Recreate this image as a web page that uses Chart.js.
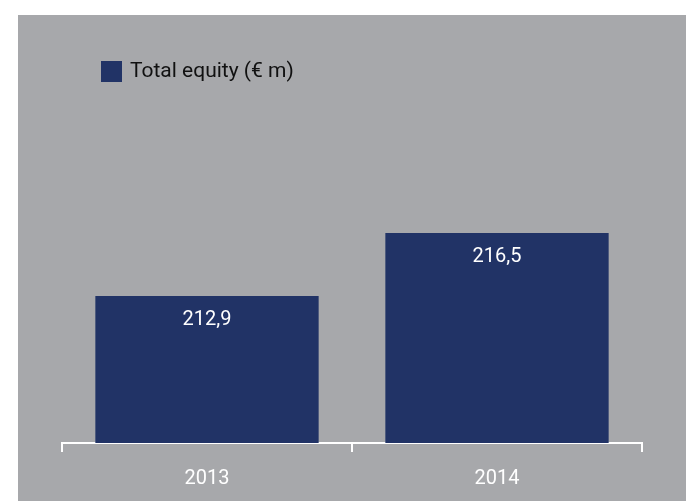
<!DOCTYPE html>
<html>
<head>
<meta charset="utf-8">
<script src="https://cdn.jsdelivr.net/npm/chart.js@4/dist/chart.umd.min.js"></script>
<style>
html,body{margin:0;padding:0;background:#fff;}
#wrap{width:686px;height:501px;position:relative;}
</style>
</head>
<body>
<div id="wrap"><canvas id="c" width="686" height="501"></canvas></div>
<script>
const categories = ["2013", "2014"];
const seriesLabel = "Total equity (€ m)";
const equityValues = [212.9, 216.5];

const FONT = "Roboto, 'Liberation Sans', sans-serif";
const GRAY = "#a7a8ab";
const NAVY = "#213366";

const bgPlugin = {
  id: "bg",
  beforeDraw(chart) {
    const ctx = chart.ctx;
    ctx.save();
    ctx.fillStyle = "#ffffff";
    ctx.fillRect(0, 0, chart.width, chart.height);
    ctx.fillStyle = GRAY;
    ctx.fillRect(18, 15, chart.width - 18, chart.height - 15);
    ctx.restore();
  }
};

const legendPlugin = {
  id: "customLegend",
  afterDraw(chart) {
    const ctx = chart.ctx;
    const ds = chart.data.datasets[0];
    ctx.save();
    ctx.fillStyle = ds.backgroundColor;
    ctx.fillRect(101, 61, 21, 21);
    ctx.fillStyle = "#111111";
    ctx.font = "21px " + FONT;
    ctx.textBaseline = "middle";
    ctx.textAlign = "left";
    ctx.fillText(ds.label, 130, 72);
    ctx.restore();
  }
};

const valueLabelPlugin = {
  id: "valueLabels",
  afterDatasetsDraw(chart) {
    const ctx = chart.ctx;
    const meta = chart.getDatasetMeta(0);
    const data = chart.data.datasets[0].data;
    ctx.save();
    ctx.fillStyle = "#ffffff";
    ctx.font = "20px " + FONT;
    ctx.textAlign = "center";
    ctx.textBaseline = "middle";
    meta.data.forEach((bar, i) => {
      const txt = data[i].toFixed(1).replace(".", ",");
      ctx.fillText(txt, bar.x, bar.y + 24);
    });
    ctx.restore();
  }
};

new Chart(document.getElementById("c"), {
  type: "bar",
  data: {
    labels: categories,
    datasets: [{
      label: seriesLabel,
      data: equityValues,
      backgroundColor: NAVY,
      borderWidth: 0,
      categoryPercentage: 1,
      barPercentage: 0.77
    }]
  },
  options: {
    responsive: false,
    animation: false,
    devicePixelRatio: 1,
    layout: { padding: { left: 62, right: 44, top: 100, bottom: 0 } },
    plugins: {
      legend: { display: false },
      tooltip: { enabled: false }
    },
    scales: {
      x: {
        offset: true,
        grid: {
          offset: true,
          display: true,
          drawOnChartArea: false,
          drawTicks: true,
          tickLength: 9,
          color: "#ffffff",
          lineWidth: 2
        },
        border: { display: true, color: "#ffffff", width: 2 },
        ticks: {
          color: "#ffffff",
          font: { family: FONT, size: 20 },
          padding: 15
        },
        afterFit(scale) { scale.height = 58; }
      },
      y: {
        display: false,
        min: 204.5,
        max: 224.1
      }
    }
  },
  plugins: [bgPlugin, legendPlugin, valueLabelPlugin]
});
</script>
</body>
</html>
